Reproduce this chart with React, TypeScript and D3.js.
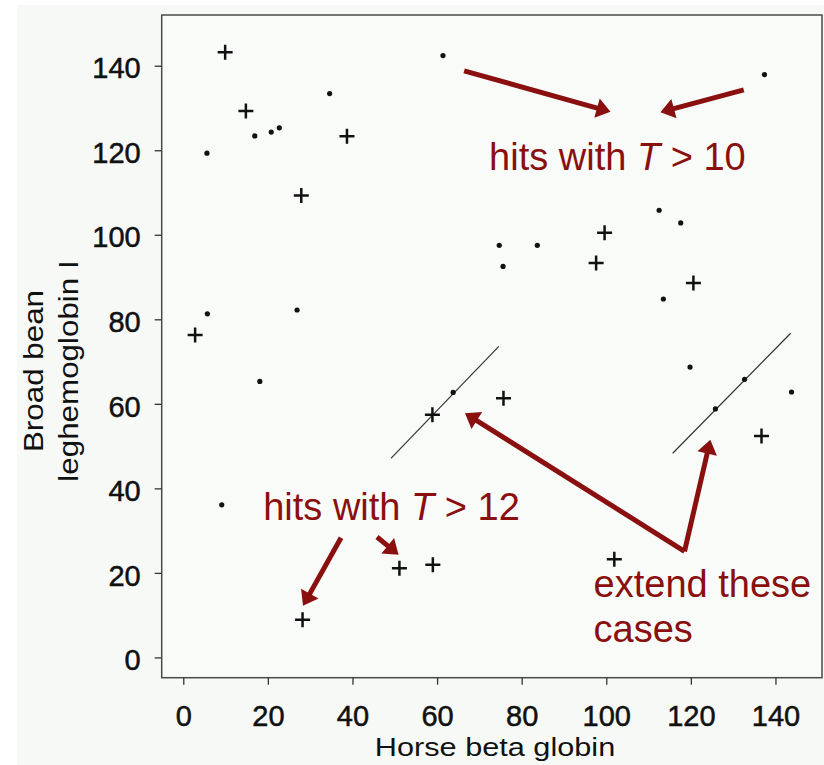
import React, { useEffect, useRef } from 'react';
import * as d3 from 'd3';

// [horse beta globin, broad bean leghemoglobin I]
const plusPoints: [number, number][] = [
  [9.9, 143.2], [14.8, 129.3], [38.7, 123.3], [27.9, 109.3], [2.8, 76.3],
  [99.6, 100.5], [97.6, 93.3], [120.6, 88.6], [58.9, 57.4], [75.7, 61.3],
  [136.7, 52.4], [51.1, 21.1], [59.0, 21.9], [28.2, 8.9], [101.9, 23.2],
];
const dotPoints: [number, number][] = [
  [61.4, 142.4], [34.6, 133.4], [16.9, 123.4], [20.8, 124.3], [22.7, 125.3],
  [5.6, 119.3], [26.9, 82.2], [5.7, 81.3], [137.4, 137.9], [112.5, 105.8],
  [117.6, 102.8], [74.7, 97.5], [83.7, 97.5], [75.6, 92.5], [113.5, 84.8],
  [18.1, 65.3], [63.8, 62.7], [9.1, 36.1], [119.8, 68.7], [132.7, 65.8],
  [143.8, 62.8], [125.8, 58.8],
];
const xTicks = [0, 20, 40, 60, 80, 100, 120, 140];
const yTicks = [0, 20, 40, 60, 80, 100, 120, 140];

// diagonals to extend, in data units
const extendLines: [number, number, number, number][] = [
  [49.1, 47.1, 74.6, 73.6],
  [115.7, 48.3, 143.6, 76.7],
];
// arrows: from -> tip, in data units
const arrows: [number, number, number, number][] = [
  [66.4, 138.8, 101.0, 129.1],
  [132.5, 134.3, 112.8, 129.0],
  [37.3, 28.3, 28.3, 12.2],
  [45.8, 28.5, 50.9, 24.3],
  [118.5, 25.1, 66.6, 57.8],
  [118.5, 25.1, 124.6, 51.5],
];
const labels = [
  { x: 72.3, y: 115.4, pre: 'hits with ', it: 'T', post: ' > 10' },
  { x: 18.9, y: 32.4, pre: 'hits with ', it: 'T', post: ' > 12' },
  { x: 97.0, y: 14.4, pre: 'extend these', it: '', post: '' },
  { x: 97.0, y: 3.6, pre: 'cases', it: '', post: '' },
];

const App = () => {
  const svgRef = useRef<SVGSVGElement>(null);

  useEffect(() => {
    const width = 824;
    const height = 765;
    const svg = d3.select(svgRef.current);
    svg.selectAll('*').remove();
    svg.attr('width', width).attr('height', height);

    const font = '"Liberation Sans", Arial, Helvetica, sans-serif';
    const red = '#8a0f0f';
    const left = 161.7, right = 822, top = 15, bottom = 677.7;

    svg.append('rect').attr('width', width).attr('height', height).attr('fill', '#ffffff');
    svg.append('rect').attr('x', 17).attr('y', 5).attr('width', width - 17).attr('height', height - 5)
      .attr('fill', '#f6f9f6');

    const x = d3.scaleLinear().domain([-5.1, 151]).range([left, right]);
    const y = d3.scaleLinear().domain([-4.8, 152]).range([bottom, top]);

    svg.append('rect')
      .attr('x', left).attr('y', top)
      .attr('width', right - left).attr('height', bottom - top)
      .attr('fill', '#f8fbf8')
      .attr('stroke', '#4a4a4a')
      .attr('stroke-width', 1.5);

    const xAxis = svg.append('g')
      .attr('transform', `translate(0,${bottom})`)
      .call(d3.axisBottom(x).tickValues(xTicks).tickSize(7).tickPadding(15).tickFormat(d3.format('d')));
    const yAxis = svg.append('g')
      .attr('transform', `translate(${left},0)`)
      .call(d3.axisLeft(y).tickValues(yTicks).tickSize(7).tickPadding(14).tickFormat(d3.format('d')));
    [xAxis, yAxis].forEach((g) => {
      g.select('.domain').remove();
      g.selectAll('line').attr('stroke', '#333').attr('stroke-width', 1.3);
      g.selectAll('text')
        .attr('fill', '#111').attr('stroke', '#111').attr('stroke-width', 0.5)
        .attr('font-size', '29px').attr('font-family', font);
    });
    xAxis.selectAll('text').attr('dy', '0.9em');
    yAxis.selectAll('text').attr('dy', '0.42em');

    // axis titles
    svg.append('text')
      .attr('transform', 'translate(495,756) scale(1.18,1)')
      .attr('text-anchor', 'middle')
      .attr('font-family', font).attr('font-size', '26px').attr('fill', '#111')
      .text('Horse beta globin');
    [['Broad bean', 43.3], ['leghemoglobin I', 78]].forEach(([t, bx]) => {
      svg.append('text')
        .attr('transform', `translate(${bx},371) rotate(-90) scale(1.12,1)`)
        .attr('text-anchor', 'middle')
        .attr('font-family', font).attr('font-size', '28px').attr('fill', '#111')
        .text(t as string);
    });

    // extension lines
    svg.append('g').selectAll('line')
      .data(extendLines)
      .join('line')
      .attr('x1', (d) => x(d[0])).attr('y1', (d) => y(d[1]))
      .attr('x2', (d) => x(d[2])).attr('y2', (d) => y(d[3]))
      .attr('stroke', '#333').attr('stroke-width', 1.2);

    // points
    const arm = 7.5;
    svg.append('g').selectAll('path')
      .data(plusPoints)
      .join('path')
      .attr('d', (d) => {
        const cx = x(d[0]), cy = y(d[1]);
        return `M${cx - arm},${cy}H${cx + arm}M${cx},${cy - arm}V${cy + arm}`;
      })
      .attr('stroke', '#111').attr('stroke-width', 2.5).attr('fill', 'none');
    svg.append('g').selectAll('circle')
      .data(dotPoints)
      .join('circle')
      .attr('cx', (d) => x(d[0])).attr('cy', (d) => y(d[1]))
      .attr('r', 2.6).attr('fill', '#111');

    // arrows
    const headLen = 14, headHalf = 10;
    const ag = svg.append('g');
    arrows.forEach((a) => {
      const x1 = x(a[0]), y1 = y(a[1]), x2 = x(a[2]), y2 = y(a[3]);
      const len = Math.hypot(x2 - x1, y2 - y1);
      const ux = (x2 - x1) / len, uy = (y2 - y1) / len;
      const bx = x2 - ux * headLen, by = y2 - uy * headLen;
      ag.append('line')
        .attr('x1', x1).attr('y1', y1)
        .attr('x2', bx + ux * 2).attr('y2', by + uy * 2)
        .attr('stroke', red).attr('stroke-width', 5);
      ag.append('path')
        .attr('d', `M${x2},${y2}L${bx - uy * headHalf},${by + ux * headHalf}L${bx + uy * headHalf},${by - ux * headHalf}Z`)
        .attr('fill', red);
    });

    // labels
    labels.forEach((l) => {
      const t = svg.append('text')
        .attr('x', x(l.x)).attr('y', y(l.y))
        .attr('font-family', font).attr('font-size', '38px').attr('fill', red);
      t.append('tspan').text(l.pre);
      if (l.it) t.append('tspan').attr('font-style', 'italic').text(l.it);
      if (l.post) t.append('tspan').text(l.post);
    });
  }, []);

  return (
    <div style={{ position: 'absolute', left: 0, top: 0 }}>
      <svg ref={svgRef} style={{ display: 'block' }} />
    </div>
  );
};

export default App;
